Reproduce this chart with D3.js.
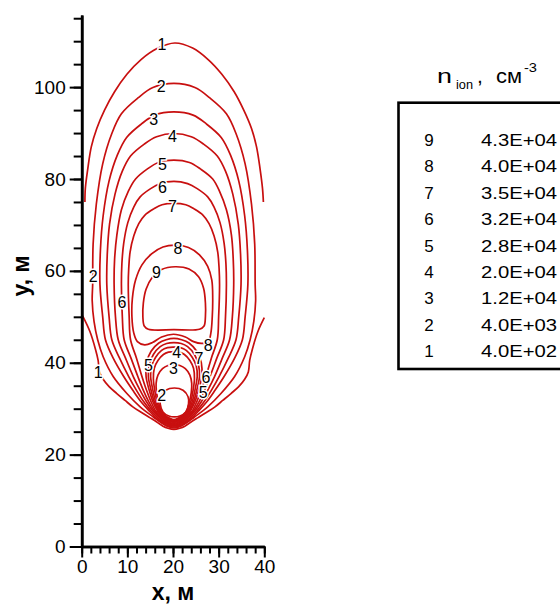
<!DOCTYPE html>
<html>
<head>
<meta charset="utf-8">
<script src="https://cdn.jsdelivr.net/npm/d3@7"></script>
<style>
  html, body { margin: 0; padding: 0; background: #fff; }
  svg { display: block; font-family: "Liberation Sans", Arial, Helvetica, sans-serif; }
</style>
</head>
<body>
<svg id="chart" width="560" height="605"></svg>
<script>
// ---- contour levels (legend) ----
const levelIds = [9, 8, 7, 6, 5, 4, 3, 2, 1];
const levelValues = ["4.3E+04", "4.0E+04", "3.5E+04", "3.2E+04", "2.8E+04", "2.0E+04", "1.2E+04", "4.0E+03", "4.0E+02"];

// ---- axis ticks ----
const xMajorTicks = [0, 10, 20, 30, 40];
const xMinorTicks = d3.range(0, 41, 2);
const yMajorTicks = [0, 20, 40, 60, 80, 100];
const yMinorTicks = d3.range(0, 116, 5);

// ---- isolines, [x, y] in metres ----
// level 1: two open pieces cut by the domain edges x = 0 and x = 40
const c1Upper = [[0.7,75],[0.8,78],[1.3,82],[2.1,87],[3.3,91],[5.0,95],[7.2,99],[9.9,102.8],[13.0,106],[16.5,108.4],[20.4,109.6],[24.3,108.5],[27.7,106],[30.7,102.8],[33.4,99],[35.5,95],[37.2,91],[38.3,87],[39.1,82],[39.6,78],[39.8,75]];
const c1Lower = [[0.2,50.2],[1.8,46.8],[3.0,43.0],[3.6,40.5],[3.9,38],[4.7,36.4],[6.0,34.8],[7.7,33.3],[9.5,31.8],[11.2,30.4],[13.2,29.1],[15.0,28.0],[16.6,27.0],[17.8,26.2],[18.9,25.75],[20.2,25.5],[21.5,25.75],[22.6,26.2],[23.8,27.0],[25.4,28.0],[27.2,29.1],[29.2,30.4],[30.9,31.8],[32.7,33.3],[34.4,34.8],[35.7,36.4],[36.5,38],[36.8,40.5],[37.4,43],[38.6,46.8],[40.0,49.8]];
// levels 2-7: outer loop round the plume and inner loop round the low near (20, 31)
const c2Outer = [[20.2,25.8],[18.8,26.15],[17.6,26.8],[15.7,28.2],[12.8,30.4],[9.9,33.3],[6.9,37.0],[4.7,41.3],[3.5,45],[2.7,49],[2.3,53.5],[2.4,57],[2.5,65.8],[3.2,74.5],[4.6,83.3],[6.6,89.9],[8.7,94.2],[12.4,97.7],[15.6,99.9],[20.2,100.8],[24.8,99.9],[28.0,97.7],[31.7,94.2],[33.8,89.9],[35.8,83.3],[37.2,74.5],[37.9,65.8],[38.0,57],[38.1,53.5],[37.7,49],[36.9,45],[35.7,41.3],[33.5,37.0],[30.5,33.3],[27.6,30.4],[24.7,28.2],[22.8,26.8],[21.6,26.15]];
const c2Inner = [[20.3,34.5],[22.2,34.0],[23.3,32.6],[23.4,31.0],[22.8,29.3],[21.5,28.4],[20.3,28.2],[19.1,28.4],[17.8,29.3],[17.2,31.0],[17.3,32.6],[18.4,34.0]];
const c3Outer = [[20.2,26.0],[18.8,26.35],[17.6,27.0],[16.3,28.0],[14.8,29.5],[13.0,31.5],[11.2,34],[9.2,37],[6.9,41],[5.2,45],[4.6,50],[4.0,57],[4.1,64.5],[4.7,72.0],[6.0,79.6],[7.8,85.2],[9.8,89.0],[13.1,92.0],[16.0,93.9],[20.2,94.6],[24.4,93.9],[27.3,92.0],[30.6,89.0],[32.6,85.2],[34.4,79.6],[35.7,72.0],[36.3,64.5],[36.4,57],[35.8,50],[35.2,45],[33.5,41],[31.2,37],[29.2,34],[27.4,31.5],[25.6,29.5],[24.1,28.0],[22.8,27.0],[21.6,26.35]];
const c3Inner = [[20.2,27.6],[19.2,27.95],[18.2,28.6],[17.4,29.5],[16.8,31.5],[16.4,33.5],[16.3,35.5],[16.7,37.3],[17.7,38.7],[18.9,39.4],[20.2,39.6],[21.5,39.4],[22.7,38.7],[23.7,37.3],[24.1,35.5],[24.0,33.5],[23.6,31.5],[23.0,29.5],[22.2,28.6],[21.2,27.95]];
const c4Outer = [[20.2,26.2],[18.9,26.55],[17.7,27.2],[16.5,28.2],[15.2,29.5],[13.6,31.5],[12.0,34],[10.3,37],[8.3,41],[6.6,45],[6.0,50],[5.5,57],[5.6,63.6],[6.1,70.2],[7.3,76.7],[8.9,81.7],[10.7,85.0],[13.7,87.6],[16.4,89.2],[20.2,89.9],[24.0,89.2],[26.7,87.6],[29.7,85.0],[31.5,81.7],[33.1,76.7],[34.3,70.2],[34.8,63.6],[34.9,57],[34.4,50],[33.8,45],[32.1,41],[30.1,37],[28.4,34],[26.8,31.5],[25.2,29.5],[23.9,28.2],[22.7,27.2],[21.5,26.55]];
const c4Inner = [[20.2,27.45],[19.2,27.8],[18.1,28.5],[17.2,29.5],[16.5,31.5],[16.0,34],[15.7,36.5],[15.9,38.8],[16.7,40.5],[17.9,41.8],[19.0,42.3],[20.2,42.4],[21.4,42.3],[22.5,41.8],[23.7,40.5],[24.5,38.8],[24.7,36.5],[24.4,34],[23.9,31.5],[23.2,29.5],[22.3,28.5],[21.2,27.8]];
const c5Outer = [[20.2,26.4],[18.9,26.75],[17.8,27.4],[16.7,28.4],[15.6,29.5],[14.2,31.5],[12.8,34],[11.3,37],[9.6,41],[8.0,45],[7.4,50],[7.1,57],[7.2,62.4],[7.7,67.8],[8.7,73.3],[10.2,77.3],[11.8,80.0],[14.4,82.2],[16.8,83.6],[20.2,84.1],[23.6,83.6],[26.0,82.2],[28.7,80.0],[30.2,77.3],[31.7,73.3],[32.8,67.8],[33.2,62.4],[33.3,57],[33.0,50],[32.4,45],[30.8,41],[29.1,37],[27.6,34],[26.2,31.5],[24.8,29.5],[23.7,28.4],[22.6,27.4],[21.5,26.75]];
const c5Inner = [[20.2,27.3],[19.1,27.65],[18.0,28.4],[17.0,29.5],[16.2,31.5],[15.6,34],[15.1,37],[15.3,39.3],[16.2,41.2],[17.5,42.7],[18.8,43.3],[20.2,43.4],[21.6,43.3],[22.9,42.7],[24.2,41.2],[25.1,39.3],[25.3,37],[24.8,34],[24.2,31.5],[23.4,29.5],[22.4,28.4],[21.3,27.65]];
const c6Outer = [[20.2,26.6],[19.0,26.95],[17.9,27.6],[16.8,28.6],[15.9,29.5],[14.7,31.5],[13.5,34],[12.3,37],[10.8,41],[9.3,45],[8.9,50],[8.7,57],[8.8,61.5],[9.2,66.0],[10.1,70.5],[11.4,73.9],[12.8,76.1],[15.1,77.9],[17.2,79.0],[20.2,79.5],[23.2,79.0],[25.3,77.9],[27.6,76.1],[29.0,73.9],[30.3,70.5],[31.2,66.0],[31.6,61.5],[31.7,57],[31.5,50],[31.1,45],[29.6,41],[28.1,37],[26.9,34],[25.7,31.5],[24.5,29.5],[23.6,28.6],[22.5,27.6],[21.4,26.95]];
const c6Inner = [[20.2,27.15],[19.1,27.5],[17.9,28.3],[16.8,29.5],[15.9,31.5],[15.2,34],[14.6,37],[14.8,39.5],[15.7,41.8],[17.2,43.5],[18.6,44.2],[20.2,44.4],[21.8,44.2],[23.2,43.5],[24.7,41.8],[25.6,39.5],[25.8,37],[25.2,34],[24.5,31.5],[23.6,29.5],[22.5,28.3],[21.3,27.5]];
const c7Outer = [[20.2,26.8],[19.0,27.15],[18.0,27.8],[16.9,28.8],[16.2,29.5],[15.2,31.5],[14.2,34],[13.2,37],[12.0,41],[10.7,45],[10.4,50],[10.2,57],[10.3,60.5],[10.6,64.1],[11.4,67.6],[12.5,70.3],[13.8,72.1],[15.8,73.5],[17.6,74.4],[20.2,74.7],[22.8,74.4],[24.6,73.5],[26.6,72.1],[27.9,70.3],[29.0,67.6],[29.8,64.1],[30.1,60.5],[30.2,57],[30.0,50],[29.7,45],[28.4,41],[27.2,37],[26.2,34],[25.2,31.5],[24.2,29.5],[23.5,28.8],[22.4,27.8],[21.4,27.15]];
const c7Inner = [[20.2,27.0],[19.0,27.35],[17.8,28.2],[16.6,29.5],[15.6,31.5],[14.8,34],[14.1,37],[14.2,40],[15.2,42.5],[16.9,44.3],[18.5,45.0],[20.2,45.3],[21.9,45.0],[23.5,44.3],[25.2,42.5],[26.2,40],[26.3,37],[25.6,34],[24.8,31.5],[23.8,29.5],[22.6,28.2],[21.4,27.35]];
// levels 8 and 9: closed loops round the maximum
const c8Loop = [[20.1,46.2],[17.5,45.6],[15.5,44.4],[13.8,43.9],[12.2,44.6],[11.4,46.5],[11.0,50],[11.1,54],[11.8,58],[13.2,61.3],[15.3,63.7],[17.8,65.2],[20.6,65.6],[23.4,65.1],[25.8,63.5],[27.6,61],[28.5,58],[28.7,54],[28.6,50],[28.3,46.5],[27.7,44.5],[26.2,44.2],[24.5,44.6],[22.7,45.6]];
const c9Loop = [[20.5,60.9],[23.5,60.4],[25.6,58.7],[26.7,56.2],[27.1,53],[27.1,50],[26.8,48],[25.8,47.3],[20.2,47.2],[14.6,47.3],[13.7,48],[13.4,50],[13.5,53],[14.1,56],[15.4,58.5],[17.5,60.3]];

const openLines = [c1Upper, c1Lower];
const closedLines = [c2Outer, c2Inner, c3Outer, c3Inner, c4Outer, c4Inner, c5Outer, c5Inner,
                     c6Outer, c6Inner, c7Outer, c7Inner, c8Loop, c9Loop];

// ---- isoline labels: level number and its spot, metres ----
const labelIds = [1, 2, 3, 4, 5, 6, 7, 8, 9, 2, 6, 1, 5, 4, 3, 2, 8, 7, 6, 5];
const labelX   = [17.6, 17.4, 15.8, 19.9, 17.7, 17.7, 19.9, 21.1, 16.4, 2.5, 8.8, 3.6, 14.6, 20.8, 20.1, 17.5, 27.7, 25.7, 27.2, 26.6];
const labelY   = [109.4, 100.2, 93.0, 89.2, 83.2, 78.3, 74.1, 65.0, 59.8, 58.9, 53.1, 38.0, 39.5, 42.2, 38.9, 33.0, 43.9, 41.0, 36.9, 33.6];

const svg = d3.select("#chart");

const x = d3.scaleLinear().domain([0, 40]).range([81.7, 264.3]);
const y = d3.scaleLinear().domain([0, 115.7]).range([546.5, 15]);

const red = "#c80f0f";

// isolines
const line = d3.line().x(d => x(d[0])).y(d => y(d[1])).curve(d3.curveCatmullRom.alpha(0.5));
const lineClosed = d3.line().x(d => x(d[0])).y(d => y(d[1])).curve(d3.curveCatmullRomClosed.alpha(0.5));

const gLines = svg.append("g").attr("fill", "none").attr("stroke", red).attr("stroke-width", 1.7);
gLines.selectAll("path.open").data(openLines).join("path").attr("class", "open").attr("d", line);
gLines.selectAll("path.closed").data(closedLines).join("path").attr("class", "closed").attr("d", lineClosed);

// isoline labels with a white halo that breaks the line
svg.append("g")
  .selectAll("text")
  .data(labelIds)
  .join("text")
  .attr("x", (d, i) => x(labelX[i]))
  .attr("y", (d, i) => y(labelY[i]))
  .attr("dy", "0.36em")
  .attr("text-anchor", "middle")
  .attr("font-size", 16)
  .attr("fill", "#000")
  .attr("stroke", "#fff")
  .attr("stroke-width", 3)
  .attr("paint-order", "stroke")
  .text(d => d);

// axes
function styleAxis(g) {
  g.select(".domain").attr("stroke", "#000").attr("stroke-width", 2.6);
  g.selectAll(".tick line").attr("stroke", "#000").attr("stroke-width", 2);
  g.selectAll(".tick text").attr("font-size", 19).attr("fill", "#000")
    .attr("font-family", "'Liberation Sans', Arial, sans-serif");
}

const gx = svg.append("g").attr("transform", `translate(0,${y(0)})`);
gx.append("g").call(d3.axisBottom(x).tickValues(xMinorTicks).tickSize(7).tickSizeOuter(0).tickFormat(""))
  .call(styleAxis);
gx.append("g").call(d3.axisBottom(x).tickValues(xMajorTicks).tickSize(11).tickSizeOuter(0).tickPadding(2))
  .call(styleAxis);

const gy = svg.append("g").attr("transform", `translate(${x(0)},0)`);
gy.append("g").call(d3.axisLeft(y).tickValues(yMinorTicks).tickSize(8).tickSizeOuter(0).tickFormat(""))
  .call(styleAxis);
gy.append("g").call(d3.axisLeft(y).tickValues(yMajorTicks).tickSize(12).tickSizeOuter(0).tickPadding(4))
  .call(styleAxis);

// axis titles
svg.append("text")
  .attr("x", x(20)).attr("y", 600)
  .attr("text-anchor", "middle")
  .attr("font-size", 23).attr("font-weight", "bold")
  .text("x, м");
svg.append("text")
  .attr("transform", `translate(29,${276}) rotate(-90)`)
  .attr("text-anchor", "middle")
  .attr("font-size", 23).attr("font-weight", "bold")
  .text("y, м");

// legend title: n_ion, см^-3
const title = svg.append("text").attr("y", 83).attr("font-size", 21).attr("fill", "#000");
title.append("tspan").attr("x", 437).attr("textLength", 15).attr("lengthAdjust", "spacingAndGlyphs").text("n");
title.append("tspan").attr("x", 456).attr("y", 89).attr("font-size", 13)
  .attr("textLength", 17).attr("lengthAdjust", "spacingAndGlyphs").text("ion");
title.append("tspan").attr("x", 477).attr("y", 83).text(",");
title.append("tspan").attr("x", 496).attr("textLength", 26).attr("lengthAdjust", "spacingAndGlyphs").text("см");
title.append("tspan").attr("x", 524).attr("y", 72).attr("font-size", 13)
  .attr("textLength", 13).attr("lengthAdjust", "spacingAndGlyphs").text("-3");

// legend box
svg.append("rect")
  .attr("x", 398.5).attr("y", 102.7)
  .attr("width", 200).attr("height", 266.3)
  .attr("fill", "none").attr("stroke", "#000").attr("stroke-width", 2.6);

const rowY = d3.scalePoint().domain(levelIds).range([146, 357]);
const gLeg = svg.append("g").attr("font-size", 17).attr("fill", "#000");
gLeg.selectAll("text.id").data(levelIds).join("text").attr("class", "id")
  .attr("x", 429).attr("y", d => rowY(d)).attr("text-anchor", "middle")
  .text(d => d);
gLeg.selectAll("text.val").data(levelValues).join("text").attr("class", "val")
  .attr("x", 481).attr("y", (d, i) => rowY(levelIds[i]))
  .attr("textLength", 76).attr("lengthAdjust", "spacingAndGlyphs")
  .text(d => d);
</script>
</body>
</html>
